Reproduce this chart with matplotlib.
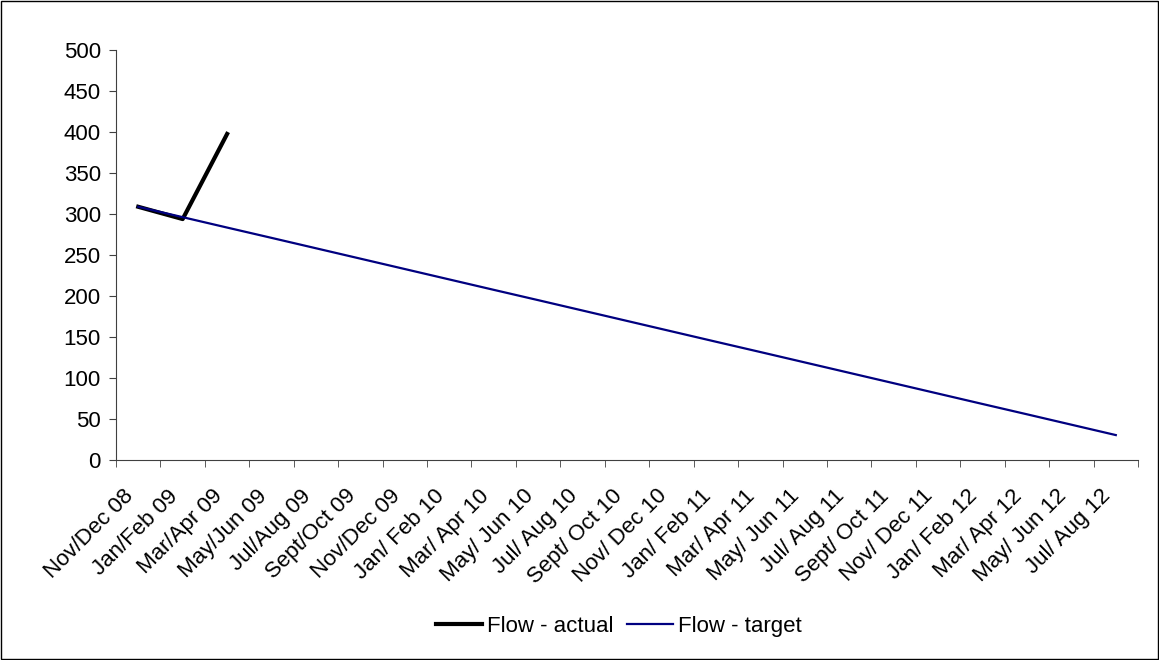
import numpy as np
import matplotlib
matplotlib.use('Agg')
import matplotlib.pyplot as plt
import matplotlib.transforms as mtransforms

plt.rcParams['font.family'] = ['Liberation Sans', 'DejaVu Sans']

periods = ['Nov/Dec 08', 'Jan/Feb 09', 'Mar/Apr 09', 'May/Jun 09', 'Jul/Aug 09',
           'Sept/Oct 09', 'Nov/Dec 09', 'Jan/ Feb 10', 'Mar/ Apr 10', 'May/ Jun 10',
           'Jul/ Aug 10', 'Sept/ Oct 10', 'Nov/ Dec 10', 'Jan/ Feb 11', 'Mar/ Apr 11',
           'May/ Jun 11', 'Jul/ Aug 11', 'Sept/ Oct 11', 'Nov/ Dec 11', 'Jan/ Feb 12',
           'Mar/ Apr 12', 'May/ Jun 12', 'Jul/ Aug 12']

flow_actual = [309, 294, 398]
flow_target = [309, 296.3, 283.6, 271.0, 258.3, 245.6, 232.9, 220.2, 207.5, 194.9,
               182.2, 169.5, 156.8, 144.1, 131.5, 118.8, 106.1, 93.4, 80.7, 68.0,
               55.4, 42.7, 30]

fig = plt.figure(figsize=(11.59, 6.6), dpi=100)
# outer chart border
fig.patches.append(plt.Rectangle((0.001, 0.001), 0.998, 0.997, transform=fig.transFigure,
                                 fill=False, edgecolor='black', linewidth=1))
ax = fig.add_axes([0.1001, 0.3036, 0.8818, 0.6199])

x = np.arange(len(periods))
ax.plot(x[:len(flow_actual)], flow_actual, color='black', linewidth=3, label='Flow - actual')
ax.plot(x, flow_target, color='#000080', linewidth=1.6, label='Flow - target')

ax.set_xlim(-0.5, len(periods) - 0.5)
ax.set_ylim(0, 500)
ax.set_yticks(np.arange(0, 501, 50))
ax.set_xticks(np.arange(-0.5, len(periods), 1), minor=True)
ax.set_xticks(x)
ax.set_xticklabels(periods, rotation=45, ha='right', va='center', rotation_mode='anchor',
                   fontsize=16)
ax.tick_params(axis='x', which='major', length=0, pad=24)
ax.tick_params(axis='x', which='minor', length=5, direction='out', color='#404040')
ax.tick_params(axis='y', labelsize=16, length=5, direction='out', color='#404040', pad=6)

# nudge the rotated labels a little to the left, as in the original
shift = mtransforms.ScaledTranslation(-8 / 100, 0, fig.dpi_scale_trans)
for lbl in ax.get_xticklabels():
    lbl.set_transform(lbl.get_transform() + shift)

for s in ['top', 'right']:
    ax.spines[s].set_visible(False)
for s in ['left', 'bottom']:
    ax.spines[s].set_color('#404040')

fig.legend(loc='center', bbox_to_anchor=(0.5337, 0.0515), ncol=2, frameon=False,
           fontsize=16, handlelength=2.1, handletextpad=0.2, columnspacing=0.6)

fig.savefig('out.png', dpi=100)
